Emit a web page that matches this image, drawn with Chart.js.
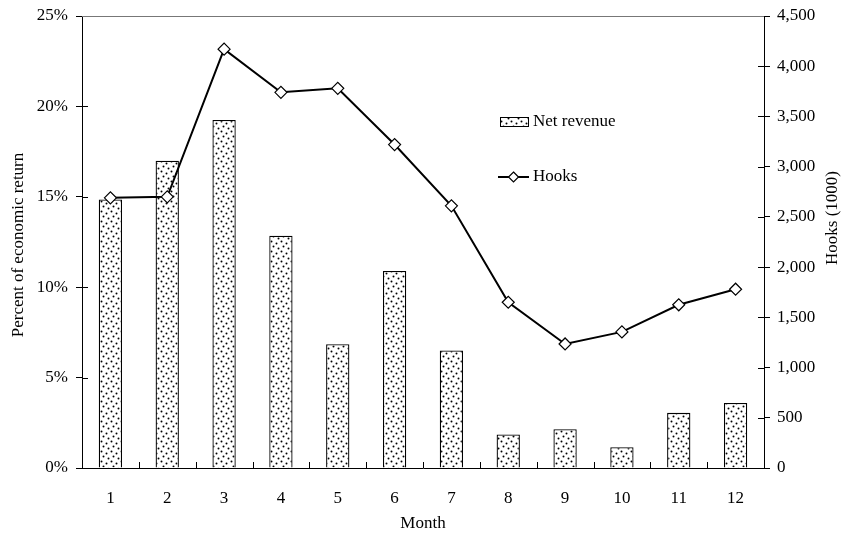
<!DOCTYPE html>
<html>
<head>
<meta charset="utf-8">
<script src="https://cdn.jsdelivr.net/npm/chart.js@4/dist/chart.umd.min.js"></script>
<style>
  html, body { margin: 0; padding: 0; background: #fff; }
  #wrap { width: 842px; height: 534px; }
</style>
</head>
<body>
<div id="wrap"><canvas id="chart" width="842" height="534"></canvas></div>
<script>
const months = ['1', '2', '3', '4', '5', '6', '7', '8', '9', '10', '11', '12'];
const netRevenue = [14.85, 17.0, 19.25, 12.85, 6.85, 10.9, 6.5, 1.85, 2.15, 1.15, 3.05, 3.6];
const hooks = [2690, 2700, 4170, 3740, 3780, 3220, 2610, 1650, 1235, 1355, 1625, 1780];

const serif = "'Liberation Serif', 'Times New Roman', serif";
const fontSize = 17;

function makeDots() {
  const c = document.createElement('canvas');
  c.width = 10; c.height = 10;
  const g = c.getContext('2d');
  g.fillStyle = '#fff';
  g.fillRect(0, 0, 10, 10);
  g.fillStyle = '#000';
  [[1, 1], [6, 3], [3, 6], [8, 8]].forEach(p => {
    g.beginPath();
    g.arc(p[0] + 0.5, p[1] + 0.5, 1.0, 0, Math.PI * 2);
    g.fill();
  });
  return g.createPattern(c, 'repeat');
}
const dots = makeDots();

// ticks that cross into the plot, grey top border, axis titles and legend
const extras = {
  id: 'extras',
  afterDraw(chart) {
    const ctx = chart.ctx;
    const a = chart.chartArea;
    const yl = chart.scales.y, yr = chart.scales.y1, x = chart.scales.x;
    ctx.save();
    ctx.strokeStyle = '#000';
    ctx.lineWidth = 1;
    ctx.beginPath();
    yl.ticks.forEach((t, i) => {
      const py = Math.round(yl.getPixelForTick(i)) + 0.5;
      ctx.moveTo(a.left, py); ctx.lineTo(a.left + 6, py);
    });
    yr.ticks.forEach((t, i) => {
      const py = Math.round(yr.getPixelForTick(i)) + 0.5;
      ctx.moveTo(a.right - 6, py); ctx.lineTo(a.right, py);
    });
    for (let i = 1; i < months.length; i++) {
      const px = Math.round((x.getPixelForValue(i - 1) + x.getPixelForValue(i)) / 2) + 0.5;
      ctx.moveTo(px, a.bottom); ctx.lineTo(px, a.bottom - 6);
    }
    ctx.stroke();
    ctx.strokeStyle = '#777';
    ctx.beginPath();
    ctx.moveTo(a.left, a.top + 0.5); ctx.lineTo(a.right, a.top + 0.5);
    ctx.stroke();

    // axis titles
    ctx.fillStyle = '#000';
    ctx.font = fontSize + 'px ' + serif;
    ctx.textAlign = 'center';
    ctx.textBaseline = 'middle';
    ctx.fillText('Month', (a.left + a.right) / 2, 524);
    ctx.save();
    ctx.translate(19, 245);
    ctx.rotate(-Math.PI / 2);
    ctx.fillText('Percent of economic return', 0, 0);
    ctx.restore();
    ctx.save();
    ctx.translate(833, 218);
    ctx.rotate(-Math.PI / 2);
    ctx.fillText('Hooks (1000)', 0, 0);
    ctx.restore();

    // legend
    ctx.fillStyle = dots;
    ctx.fillRect(500, 117, 29, 10);
    ctx.strokeStyle = '#000';
    ctx.strokeRect(500.5, 117.5, 28, 9);
    ctx.lineWidth = 2;
    ctx.beginPath();
    ctx.moveTo(498, 177); ctx.lineTo(529, 177);
    ctx.stroke();
    ctx.lineWidth = 1.2;
    ctx.fillStyle = '#fff';
    ctx.beginPath();
    ctx.moveTo(513.5, 172); ctx.lineTo(518.5, 177); ctx.lineTo(513.5, 182); ctx.lineTo(508.5, 177); ctx.closePath();
    ctx.fill(); ctx.stroke();
    ctx.fillStyle = '#000';
    ctx.textAlign = 'left';
    ctx.fillText('Net revenue', 533, 122);
    ctx.fillText('Hooks', 533, 177);
    ctx.restore();
  }
};

new Chart(document.getElementById('chart').getContext('2d'), {
  type: 'bar',
  data: {
    labels: months,
    datasets: [{
      type: 'line',
      label: 'Hooks',
      data: hooks,
      yAxisID: 'y1',
      borderColor: '#000',
      borderWidth: 2,
      pointStyle: 'rectRot',
      pointRadius: 6,
      pointBackgroundColor: '#fff',
      pointBorderColor: '#000',
      pointBorderWidth: 1.2,
      tension: 0,
      order: 0
    }, {
      label: 'Net revenue',
      data: netRevenue,
      yAxisID: 'y',
      backgroundColor: dots,
      borderColor: '#000',
      borderWidth: 1.3,
      barPercentage: 0.41,
      categoryPercentage: 1,
      order: 1
    }]
  },
  plugins: [extras],
  options: {
    responsive: false,
    animation: false,
    layout: { padding: { top: 16, left: 0, right: 0, bottom: 0 } },
    plugins: { legend: { display: false }, tooltip: { enabled: false } },
    scales: {
      x: {
        afterFit: s => { s.height = 66; s.paddingLeft = 0; s.paddingRight = 0; },
        grid: { display: false, drawOnChartArea: false },
        border: { color: '#000', width: 1 },
        ticks: { color: '#000', font: { family: serif, size: fontSize }, padding: 12, maxRotation: 0 }
      },
      y: {
        position: 'left',
        min: 0, max: 25,
        afterFit: s => { s.width = 82; s.paddingTop = 0; s.paddingBottom = 0; },
        grid: { drawOnChartArea: false, color: '#000', tickLength: 6 },
        border: { color: '#000', width: 1 },
        ticks: { stepSize: 5, color: '#000', font: { family: serif, size: fontSize }, padding: 8, callback: v => v + '%' }
      },
      y1: {
        position: 'right',
        min: 0, max: 4500,
        afterFit: s => { s.width = 78; s.paddingTop = 0; s.paddingBottom = 0; },
        grid: { drawOnChartArea: false, color: '#000', tickLength: 6 },
        border: { color: '#000', width: 1 },
        ticks: { stepSize: 500, color: '#000', font: { family: serif, size: fontSize }, padding: 7, callback: v => v.toLocaleString('en-US') }
      }
    }
  }
});
</script>
</body>
</html>
